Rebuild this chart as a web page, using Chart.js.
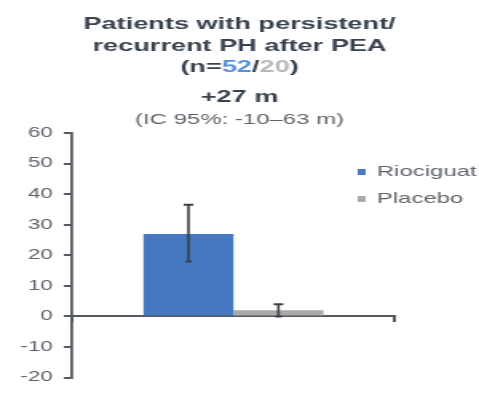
<!DOCTYPE html>
<html>
<head>
<meta charset="utf-8">
<script src="https://cdn.jsdelivr.net/npm/chart.js@4.4.1/dist/chart.umd.min.js"></script>
<style>
  html, body { margin: 0; padding: 0; background: #ffffff; overflow: hidden; }
  #wrap { width: 300px; height: 393px; transform-origin: 0 0; transform: scaleX(1.5967); }
  canvas { display: block; }
</style>
</head>
<body>
<div id="wrap"><canvas id="c" width="300" height="393"></canvas></div>
<script>
// ---- data ----
const categories = ['PEA'];
const seriesNames = ['Riociguat', 'Placebo'];
const riociguatValues = [27];
const placeboValues = [2];
const riociguatErrors = [[18, 36.5]];   // [low, high]
const placeboErrors = [[0, 4]];
const yMin = -20, yMax = 60, yStep = 10;

const titleLines = ['Patients with persistent/', 'recurrent PH after PEA'];
const nLabel = ['(n=', '52', '/', '20', ')'];
const effectLabel = '+27 m';
const ciLabel = '(IC 95%: -10–63 m)';

// ---- styles ----
const BLUE = '#4677c1';
const GREY = '#a9a9a9';
const AXIS = '#555a60';
const TEXT_DARK = '#39434f';
const TEXT_SOFT = '#60646a';
const FONT = '"Liberation Sans", Arial, sans-serif';

const errorBars = {
  id: 'errorBars',
  afterDatasetsDraw(chart) {
    const ctx = chart.ctx;
    const y = chart.scales.y;
    const errs = [riociguatErrors, placeboErrors];
    ctx.save();
    ctx.strokeStyle = '#3b3f45';
    chart.data.datasets.forEach((ds, di) => {
      const meta = chart.getDatasetMeta(di);
      meta.data.forEach((bar, i) => {
        const [lo, hi] = errs[di][i];
        const x = bar.x;
        const yLo = y.getPixelForValue(lo);
        const yHi = y.getPixelForValue(hi);
        ctx.lineWidth = 1.6;
        ctx.beginPath();
        ctx.moveTo(x, yLo);
        ctx.lineTo(x, yHi);
        ctx.stroke();
        ctx.lineWidth = 2;
        ctx.beginPath();
        ctx.moveTo(x - 3, yHi);
        ctx.lineTo(x + 3, yHi);
        ctx.moveTo(x - 2, yLo);
        ctx.lineTo(x + 2, yLo);
        ctx.stroke();
      });
    });
    ctx.restore();
  }
};

const headerAndLegend = {
  id: 'headerAndLegend',
  afterDraw(chart) {
    const ctx = chart.ctx;
    const cx = chart.width / 2;
    ctx.save();
    ctx.textBaseline = 'middle';
    ctx.textAlign = 'center';
    ctx.fillStyle = TEXT_DARK;
    ctx.font = 'bold 17px ' + FONT;
    ctx.fillText(titleLines[0], cx, 24);
    ctx.fillText(titleLines[1], cx, 46);

    // "(n=52/20)" with coloured counts
    const colours = [TEXT_DARK, '#5a8fd8', TEXT_DARK, '#b8b8b8', TEXT_DARK];
    const widths = nLabel.map(s => ctx.measureText(s).width);
    let x = cx - widths.reduce((a, b) => a + b, 0) / 2;
    ctx.textAlign = 'left';
    nLabel.forEach((s, i) => {
      ctx.fillStyle = colours[i];
      ctx.fillText(s, x, 67);
      x += widths[i];
    });

    ctx.textAlign = 'center';
    ctx.fillStyle = TEXT_DARK;
    ctx.fillText(effectLabel, cx, 97);
    ctx.font = '15px ' + FONT;
    ctx.fillStyle = TEXT_SOFT;
    ctx.fillText(ciLabel, cx, 120);

    // legend
    ctx.textAlign = 'left';
    ctx.font = '15px ' + FONT;
    chart.data.datasets.forEach((ds, i) => {
      const ly = 172 + i * 27;
      ctx.fillStyle = ds.backgroundColor;
      ctx.fillRect(224, ly - 3, 5, 6);
      ctx.fillStyle = TEXT_SOFT;
      ctx.fillText(ds.label, 236, ly);
    });
    ctx.restore();
  }
};

new Chart(document.getElementById('c'), {
  type: 'bar',
  data: {
    labels: categories,
    datasets: [
      { label: seriesNames[0], data: riociguatValues, backgroundColor: BLUE },
      { label: seriesNames[1], data: placeboValues, backgroundColor: GREY }
    ]
  },
  options: {
    responsive: false,
    devicePixelRatio: 1,
    animation: false,
    layout: { padding: { top: 133, right: 52.6, bottom: 13, left: 0 } },
    datasets: { bar: { categoryPercentage: 0.557, barPercentage: 1 } },
    plugins: { legend: { display: false }, title: { display: false }, tooltip: { enabled: false } },
    scales: {
      x: {
        position: { y: 0 },
        offset: true,
        ticks: { display: false },
        grid: { drawOnChartArea: false, drawTicks: true, tickLength: 5, color: AXIS, lineWidth: 2 },
        border: { display: true, color: AXIS, width: 2 }
      },
      y: {
        min: yMin,
        max: yMax,
        afterFit(scale) { scale.width = 45; },
        ticks: { stepSize: yStep, color: TEXT_SOFT, padding: 7, font: { family: FONT, size: 14 } },
        grid: { drawOnChartArea: false, drawTicks: true, tickLength: 5, color: AXIS, lineWidth: 2 },
        border: { display: true, color: AXIS, width: 1.8 }
      }
    }
  },
  plugins: [errorBars, headerAndLegend]
});
</script>
</body>
</html>
